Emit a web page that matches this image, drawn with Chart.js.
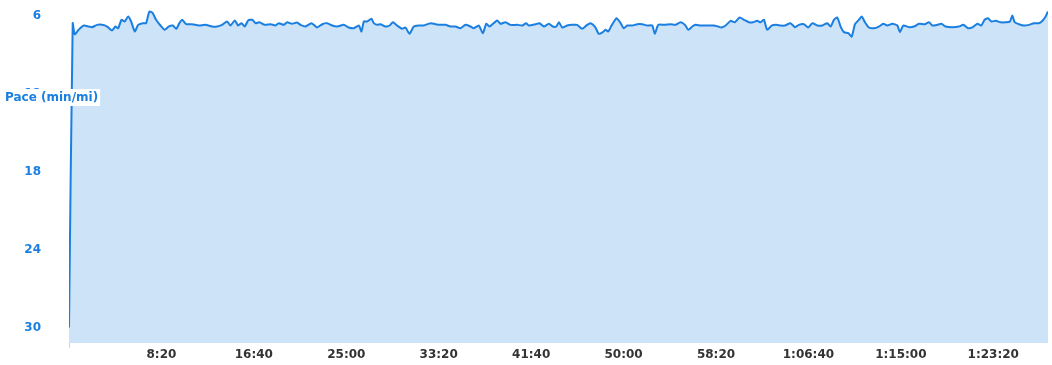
<!DOCTYPE html>
<html>
<head>
<meta charset="utf-8">
<script src="https://cdn.jsdelivr.net/npm/chart.js@4"></script>
<style>
  body { margin: 0; background: #fff; }
  #wrap { width: 1052px; height: 365px; position: relative; }
</style>
</head>
<body>
<div id="wrap"><canvas id="pace-chart"></canvas></div>
<script>
// elapsed time in seconds
const times = [0, 20, 31, 52, 80, 107, 125, 152, 179, 206, 233, 251, 266, 284, 301, 320, 336, 356, 374, 399,
  417, 435, 453, 471, 495, 518, 539, 561, 580, 597, 612, 634, 666, 702, 738, 774, 801, 828, 855, 873,
  897, 915, 933, 951, 969, 991, 1009, 1030, 1059, 1090, 1117, 1135, 1162, 1180, 1207, 1234, 1252, 1279, 1312, 1342,
  1370, 1397, 1424, 1451, 1486, 1513, 1541, 1568, 1582, 1595, 1613, 1636, 1649, 1667, 1685, 1712, 1734, 1752, 1775, 1802,
  1820, 1842, 1865, 1892, 1919, 1956, 1983, 2010, 2037, 2064, 2091, 2118, 2145, 2172, 2190, 2217, 2239, 2257, 2275, 2316,
  2334, 2361, 2388, 2425, 2452, 2473, 2487, 2524, 2545, 2569, 2596, 2617, 2636, 2650, 2668, 2695, 2722, 2749, 2776, 2803,
  2821, 2845, 2866, 2888, 2902, 2917, 2935, 2962, 2984, 3001, 3020, 3047, 3074, 3101, 3128, 3155, 3169, 3188, 3223, 3254,
  3281, 3308, 3332, 3350, 3372, 3389, 3416, 3453, 3488, 3512, 3530, 3552, 3579, 3602, 3628, 3651, 3678, 3700, 3723, 3741,
  3759, 3777, 3801, 3826, 3849, 3873, 3903, 3927, 3948, 3975, 3999, 4021, 4048, 4075, 4102, 4120, 4138, 4156, 4174, 4192,
  4216, 4234, 4252, 4273, 4288, 4306, 4327, 4354, 4381, 4405, 4427, 4454, 4481, 4495, 4513, 4544, 4571, 4598, 4629, 4652,
  4670, 4697, 4719, 4742, 4778, 4814, 4838, 4863, 4887, 4914, 4935, 4953, 4971, 4990, 5013, 5040, 5067, 5090, 5103, 5116,
  5139, 5166, 5193, 5220, 5247, 5266, 5283, 5296];

// pace in min/mi
const paces = [30, 6.59, 7.44, 7.10, 6.77, 6.85, 6.90, 6.72, 6.72, 6.85, 7.15, 6.85, 6.98, 6.33, 6.46, 6.08, 6.46, 7.23, 6.72, 6.59,
  6.59, 5.69, 5.82, 6.33, 6.77, 7.10, 6.85, 6.77, 7.02, 6.59, 6.33, 6.67, 6.67, 6.77, 6.72, 6.85, 6.85, 6.72, 6.46, 6.77,
  6.38, 6.77, 6.59, 6.85, 6.38, 6.33, 6.59, 6.52, 6.72, 6.67, 6.77, 6.59, 6.72, 6.52, 6.64, 6.54, 6.72, 6.85, 6.59, 6.92,
  6.67, 6.59, 6.77, 6.85, 6.72, 6.92, 6.98, 6.77, 7.23, 6.46, 6.46, 6.25, 6.59, 6.72, 6.67, 6.85, 6.77, 6.52, 6.77, 7.02,
  6.92, 7.41, 6.85, 6.77, 6.77, 6.59, 6.67, 6.72, 6.72, 6.85, 6.85, 6.98, 6.72, 6.85, 6.98, 6.77, 7.36, 6.64, 6.85, 6.38,
  6.64, 6.52, 6.72, 6.72, 6.77, 6.59, 6.77, 6.67, 6.59, 6.85, 6.64, 6.85, 6.85, 6.52, 6.92, 6.77, 6.72, 6.72, 7.02, 6.72,
  6.59, 6.85, 7.41, 7.28, 7.10, 7.23, 6.77, 6.21, 6.59, 6.98, 6.77, 6.77, 6.67, 6.67, 6.77, 6.77, 7.41, 6.72, 6.72, 6.67,
  6.72, 6.52, 6.72, 7.10, 6.85, 6.72, 6.77, 6.77, 6.77, 6.85, 6.92, 6.77, 6.41, 6.52, 6.15, 6.33, 6.52, 6.52, 6.41, 6.52,
  6.33, 7.10, 6.77, 6.72, 6.77, 6.77, 6.59, 6.90, 6.72, 6.67, 6.92, 6.59, 6.77, 6.77, 6.59, 6.85, 6.33, 6.15, 6.85, 7.28,
  7.36, 7.62, 6.67, 6.33, 6.08, 6.52, 6.92, 6.98, 6.85, 6.64, 6.77, 6.64, 6.77, 7.28, 6.77, 6.90, 6.85, 6.64, 6.67, 6.52,
  6.77, 6.72, 6.64, 6.85, 6.90, 6.85, 6.72, 6.98, 6.92, 6.64, 6.77, 6.33, 6.21, 6.46, 6.41, 6.52, 6.52, 6.46, 6.00, 6.52,
  6.67, 6.77, 6.72, 6.59, 6.59, 6.41, 6.08, 5.69];

const xTicks = [0, 500, 1000, 1500, 2000, 2500, 3000, 3500, 4000, 4500, 5000];
const yTicks = [6, 12, 18, 24, 30];
const axisLabel = 'Pace (min/mi)';

const BLUE = '#1a7fe0';

function fmtTime(s) {
  const h = Math.floor(s / 3600);
  const m = Math.floor((s % 3600) / 60);
  const sec = s % 60;
  const ss = String(sec).padStart(2, '0');
  if (h > 0) return h + ':' + String(m).padStart(2, '0') + ':' + ss;
  return m + ':' + ss;
}

function noPadding(scale) {
  scale.paddingTop = 0;
  scale.paddingBottom = 0;
  scale.paddingLeft = 0;
  scale.paddingRight = 0;
}

// axis label drawn over the y axis, flot style
const paceLabel = {
  id: 'paceLabel',
  afterDraw(chart) {
    const ctx = chart.ctx;
    ctx.save();
    ctx.font = 'bold 12px "DejaVu Sans", Verdana, sans-serif';
    const w = ctx.measureText(axisLabel).width;
    ctx.fillStyle = '#fff';
    ctx.fillRect(3, 89, w + 4, 17);
    ctx.fillStyle = BLUE;
    ctx.textBaseline = 'middle';
    ctx.fillText(axisLabel, 5, 98);
    ctx.restore();
  }
};

const ctx = document.getElementById('pace-chart').getContext('2d');
const paceChart = new Chart(ctx, {
  type: 'line',
  data: {
    datasets: [{
      label: axisLabel,
      data: times.map((t, i) => ({ x: t, y: paces[i] })),
      borderColor: BLUE,
      backgroundColor: '#cde3f8',
      borderWidth: 2,
      pointRadius: 0,
      tension: 0.2,
      fill: 'start'
    }]
  },
  options: {
    responsive: true,
    maintainAspectRatio: false,
    animation: false,
    layout: { padding: { top: 9, right: 4, left: 0, bottom: 0 } },
    plugins: {
      legend: { display: false },
      tooltip: { enabled: false }
    },
    scales: {
      x: {
        type: 'linear',
        min: 0,
        max: times[times.length - 1],
        afterBuildTicks: (scale) => { scale.ticks = xTicks.map(v => ({ value: v })); },
        afterFit: (scale) => { scale.height = 22; noPadding(scale); },
        border: { display: false },
        grid: {
          drawOnChartArea: false,
          drawTicks: true,
          tickLength: 5,
          color: (c) => (c.tick && c.tick.value === 0 ? '#c8d4de' : 'rgba(0,0,0,0)')
        },
        ticks: {
          autoSkip: false,
          maxRotation: 0,
          padding: 0,
          color: '#333',
          font: { family: '"DejaVu Sans", Verdana, sans-serif', size: 12, weight: 'bold' },
          callback: (v) => (v === 0 ? '' : fmtTime(v))
        }
      },
      y: {
        reverse: true,
        min: 5.5,
        max: 31.2,
        afterBuildTicks: (scale) => { scale.ticks = yTicks.map(v => ({ value: v })); },
        afterFit: (scale) => { scale.width = 69; noPadding(scale); },
        border: { display: false },
        grid: { display: false },
        ticks: {
          padding: 20,
          color: BLUE,
          font: { family: '"DejaVu Sans", Verdana, sans-serif', size: 12, weight: 'bold' }
        }
      }
    }
  },
  plugins: [paceLabel]
});
</script>
</body>
</html>
